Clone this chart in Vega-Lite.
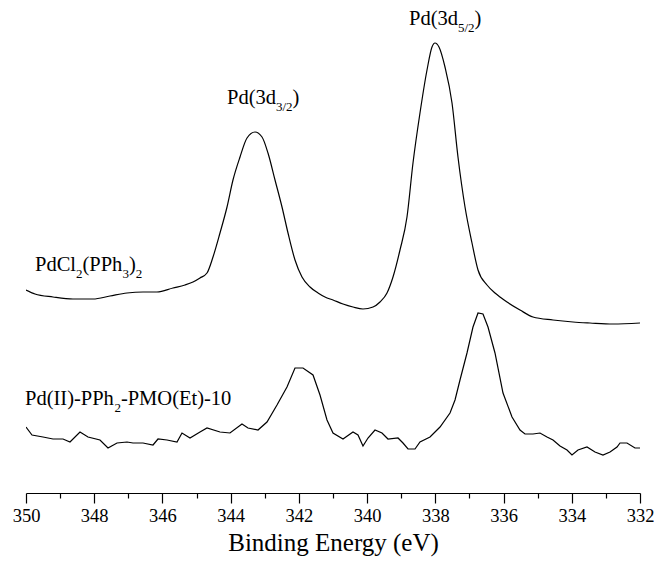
{
  "$schema": "https://vega.github.io/schema/vega-lite/v6.json",
  "width": 614,
  "height": 483,
  "autosize": {"type": "none"},
  "padding": {"left": 26, "right": 14, "top": 10, "bottom": 69},
  "background": "white",
  "config": {"view": {"stroke": null}, "font": "Liberation Serif"},
  "datasets": {
    "spectra": [
      {"series": "PdCl2(PPh3)2", "energy": 350.000, "intensity": 203},
      {"series": "PdCl2(PPh3)2", "energy": 349.736, "intensity": 199},
      {"series": "PdCl2(PPh3)2", "energy": 349.208, "intensity": 196},
      {"series": "PdCl2(PPh3)2", "energy": 348.622, "intensity": 194},
      {"series": "PdCl2(PPh3)2", "energy": 348.036, "intensity": 194},
      {"series": "PdCl2(PPh3)2", "energy": 347.537, "intensity": 197},
      {"series": "PdCl2(PPh3)2", "energy": 347.039, "intensity": 200},
      {"series": "PdCl2(PPh3)2", "energy": 346.570, "intensity": 201},
      {"series": "PdCl2(PPh3)2", "energy": 346.160, "intensity": 201},
      {"series": "PdCl2(PPh3)2", "energy": 345.691, "intensity": 205},
      {"series": "PdCl2(PPh3)2", "energy": 345.339, "intensity": 208},
      {"series": "PdCl2(PPh3)2", "energy": 345.104, "intensity": 211},
      {"series": "PdCl2(PPh3)2", "energy": 344.899, "intensity": 215},
      {"series": "PdCl2(PPh3)2", "energy": 344.694, "intensity": 220},
      {"series": "PdCl2(PPh3)2", "energy": 344.518, "intensity": 236},
      {"series": "PdCl2(PPh3)2", "energy": 344.313, "intensity": 260},
      {"series": "PdCl2(PPh3)2", "energy": 344.107, "intensity": 286},
      {"series": "PdCl2(PPh3)2", "energy": 343.932, "intensity": 313},
      {"series": "PdCl2(PPh3)2", "energy": 343.726, "intensity": 336},
      {"series": "PdCl2(PPh3)2", "energy": 343.521, "intensity": 355},
      {"series": "PdCl2(PPh3)2", "energy": 343.287, "intensity": 361},
      {"series": "PdCl2(PPh3)2", "energy": 343.081, "intensity": 356},
      {"series": "PdCl2(PPh3)2", "energy": 342.906, "intensity": 340},
      {"series": "PdCl2(PPh3)2", "energy": 342.700, "intensity": 313},
      {"series": "PdCl2(PPh3)2", "energy": 342.495, "intensity": 286},
      {"series": "PdCl2(PPh3)2", "energy": 342.319, "intensity": 260},
      {"series": "PdCl2(PPh3)2", "energy": 342.114, "intensity": 233},
      {"series": "PdCl2(PPh3)2", "energy": 341.909, "intensity": 216},
      {"series": "PdCl2(PPh3)2", "energy": 341.674, "intensity": 206},
      {"series": "PdCl2(PPh3)2", "energy": 341.440, "intensity": 200},
      {"series": "PdCl2(PPh3)2", "energy": 341.235, "intensity": 196},
      {"series": "PdCl2(PPh3)2", "energy": 341.000, "intensity": 193},
      {"series": "PdCl2(PPh3)2", "energy": 340.707, "intensity": 189},
      {"series": "PdCl2(PPh3)2", "energy": 340.414, "intensity": 186},
      {"series": "PdCl2(PPh3)2", "energy": 340.121, "intensity": 184},
      {"series": "PdCl2(PPh3)2", "energy": 339.827, "intensity": 186},
      {"series": "PdCl2(PPh3)2", "energy": 339.622, "intensity": 191},
      {"series": "PdCl2(PPh3)2", "energy": 339.417, "intensity": 200},
      {"series": "PdCl2(PPh3)2", "energy": 339.241, "intensity": 216},
      {"series": "PdCl2(PPh3)2", "energy": 339.036, "intensity": 243},
      {"series": "PdCl2(PPh3)2", "energy": 338.831, "intensity": 276},
      {"series": "PdCl2(PPh3)2", "energy": 338.655, "intensity": 330},
      {"series": "PdCl2(PPh3)2", "energy": 338.450, "intensity": 380},
      {"series": "PdCl2(PPh3)2", "energy": 338.244, "intensity": 423},
      {"series": "PdCl2(PPh3)2", "energy": 338.098, "intensity": 446},
      {"series": "PdCl2(PPh3)2", "energy": 338.010, "intensity": 450},
      {"series": "PdCl2(PPh3)2", "energy": 337.893, "intensity": 446},
      {"series": "PdCl2(PPh3)2", "energy": 337.717, "intensity": 426},
      {"series": "PdCl2(PPh3)2", "energy": 337.511, "intensity": 390},
      {"series": "PdCl2(PPh3)2", "energy": 337.336, "intensity": 336},
      {"series": "PdCl2(PPh3)2", "energy": 337.130, "intensity": 286},
      {"series": "PdCl2(PPh3)2", "energy": 336.925, "intensity": 250},
      {"series": "PdCl2(PPh3)2", "energy": 336.749, "intensity": 223},
      {"series": "PdCl2(PPh3)2", "energy": 336.485, "intensity": 208},
      {"series": "PdCl2(PPh3)2", "energy": 336.251, "intensity": 200},
      {"series": "PdCl2(PPh3)2", "energy": 336.104, "intensity": 196},
      {"series": "PdCl2(PPh3)2", "energy": 335.899, "intensity": 191},
      {"series": "PdCl2(PPh3)2", "energy": 335.518, "intensity": 183},
      {"series": "PdCl2(PPh3)2", "energy": 335.137, "intensity": 176},
      {"series": "PdCl2(PPh3)2", "energy": 334.550, "intensity": 173},
      {"series": "PdCl2(PPh3)2", "energy": 333.964, "intensity": 171},
      {"series": "PdCl2(PPh3)2", "energy": 333.466, "intensity": 170},
      {"series": "PdCl2(PPh3)2", "energy": 332.791, "intensity": 169},
      {"series": "PdCl2(PPh3)2", "energy": 332.000, "intensity": 170},

      {"series": "Pd(II)-PPh2-PMO(Et)-10", "energy": 350.000, "intensity": 66},
      {"series": "Pd(II)-PPh2-PMO(Et)-10", "energy": 349.824, "intensity": 58},
      {"series": "Pd(II)-PPh2-PMO(Et)-10", "energy": 349.502, "intensity": 56},
      {"series": "Pd(II)-PPh2-PMO(Et)-10", "energy": 349.208, "intensity": 54},
      {"series": "Pd(II)-PPh2-PMO(Et)-10", "energy": 348.915, "intensity": 54},
      {"series": "Pd(II)-PPh2-PMO(Et)-10", "energy": 348.710, "intensity": 51},
      {"series": "Pd(II)-PPh2-PMO(Et)-10", "energy": 348.417, "intensity": 61},
      {"series": "Pd(II)-PPh2-PMO(Et)-10", "energy": 348.182, "intensity": 56},
      {"series": "Pd(II)-PPh2-PMO(Et)-10", "energy": 347.831, "intensity": 53},
      {"series": "Pd(II)-PPh2-PMO(Et)-10", "energy": 347.596, "intensity": 45},
      {"series": "Pd(II)-PPh2-PMO(Et)-10", "energy": 347.332, "intensity": 50},
      {"series": "Pd(II)-PPh2-PMO(Et)-10", "energy": 347.039, "intensity": 51},
      {"series": "Pd(II)-PPh2-PMO(Et)-10", "energy": 346.863, "intensity": 50},
      {"series": "Pd(II)-PPh2-PMO(Et)-10", "energy": 346.570, "intensity": 50},
      {"series": "Pd(II)-PPh2-PMO(Et)-10", "energy": 346.277, "intensity": 48},
      {"series": "Pd(II)-PPh2-PMO(Et)-10", "energy": 346.130, "intensity": 54},
      {"series": "Pd(II)-PPh2-PMO(Et)-10", "energy": 345.866, "intensity": 53},
      {"series": "Pd(II)-PPh2-PMO(Et)-10", "energy": 345.573, "intensity": 51},
      {"series": "Pd(II)-PPh2-PMO(Et)-10", "energy": 345.427, "intensity": 60},
      {"series": "Pd(II)-PPh2-PMO(Et)-10", "energy": 345.192, "intensity": 55},
      {"series": "Pd(II)-PPh2-PMO(Et)-10", "energy": 344.899, "intensity": 61},
      {"series": "Pd(II)-PPh2-PMO(Et)-10", "energy": 344.694, "intensity": 65},
      {"series": "Pd(II)-PPh2-PMO(Et)-10", "energy": 344.313, "intensity": 61},
      {"series": "Pd(II)-PPh2-PMO(Et)-10", "energy": 344.020, "intensity": 60},
      {"series": "Pd(II)-PPh2-PMO(Et)-10", "energy": 343.668, "intensity": 69},
      {"series": "Pd(II)-PPh2-PMO(Et)-10", "energy": 343.492, "intensity": 65},
      {"series": "Pd(II)-PPh2-PMO(Et)-10", "energy": 343.199, "intensity": 63},
      {"series": "Pd(II)-PPh2-PMO(Et)-10", "energy": 342.935, "intensity": 71},
      {"series": "Pd(II)-PPh2-PMO(Et)-10", "energy": 342.642, "intensity": 88},
      {"series": "Pd(II)-PPh2-PMO(Et)-10", "energy": 342.349, "intensity": 106},
      {"series": "Pd(II)-PPh2-PMO(Et)-10", "energy": 342.114, "intensity": 125},
      {"series": "Pd(II)-PPh2-PMO(Et)-10", "energy": 341.879, "intensity": 125},
      {"series": "Pd(II)-PPh2-PMO(Et)-10", "energy": 341.586, "intensity": 118},
      {"series": "Pd(II)-PPh2-PMO(Et)-10", "energy": 341.381, "intensity": 98},
      {"series": "Pd(II)-PPh2-PMO(Et)-10", "energy": 341.176, "intensity": 73},
      {"series": "Pd(II)-PPh2-PMO(Et)-10", "energy": 341.000, "intensity": 60},
      {"series": "Pd(II)-PPh2-PMO(Et)-10", "energy": 340.707, "intensity": 54},
      {"series": "Pd(II)-PPh2-PMO(Et)-10", "energy": 340.414, "intensity": 61},
      {"series": "Pd(II)-PPh2-PMO(Et)-10", "energy": 340.267, "intensity": 58},
      {"series": "Pd(II)-PPh2-PMO(Et)-10", "energy": 340.121, "intensity": 47},
      {"series": "Pd(II)-PPh2-PMO(Et)-10", "energy": 339.974, "intensity": 55},
      {"series": "Pd(II)-PPh2-PMO(Et)-10", "energy": 339.769, "intensity": 63},
      {"series": "Pd(II)-PPh2-PMO(Et)-10", "energy": 339.564, "intensity": 60},
      {"series": "Pd(II)-PPh2-PMO(Et)-10", "energy": 339.388, "intensity": 54},
      {"series": "Pd(II)-PPh2-PMO(Et)-10", "energy": 339.094, "intensity": 55},
      {"series": "Pd(II)-PPh2-PMO(Et)-10", "energy": 338.948, "intensity": 50},
      {"series": "Pd(II)-PPh2-PMO(Et)-10", "energy": 338.801, "intensity": 44},
      {"series": "Pd(II)-PPh2-PMO(Et)-10", "energy": 338.596, "intensity": 44},
      {"series": "Pd(II)-PPh2-PMO(Et)-10", "energy": 338.450, "intensity": 51},
      {"series": "Pd(II)-PPh2-PMO(Et)-10", "energy": 338.156, "intensity": 56},
      {"series": "Pd(II)-PPh2-PMO(Et)-10", "energy": 337.863, "intensity": 66},
      {"series": "Pd(II)-PPh2-PMO(Et)-10", "energy": 337.570, "intensity": 80},
      {"series": "Pd(II)-PPh2-PMO(Et)-10", "energy": 337.423, "intensity": 93},
      {"series": "Pd(II)-PPh2-PMO(Et)-10", "energy": 337.277, "intensity": 113},
      {"series": "Pd(II)-PPh2-PMO(Et)-10", "energy": 337.072, "intensity": 140},
      {"series": "Pd(II)-PPh2-PMO(Et)-10", "energy": 336.896, "intensity": 166},
      {"series": "Pd(II)-PPh2-PMO(Et)-10", "energy": 336.749, "intensity": 180},
      {"series": "Pd(II)-PPh2-PMO(Et)-10", "energy": 336.603, "intensity": 179},
      {"series": "Pd(II)-PPh2-PMO(Et)-10", "energy": 336.456, "intensity": 166},
      {"series": "Pd(II)-PPh2-PMO(Et)-10", "energy": 336.251, "intensity": 140},
      {"series": "Pd(II)-PPh2-PMO(Et)-10", "energy": 336.016, "intensity": 100},
      {"series": "Pd(II)-PPh2-PMO(Et)-10", "energy": 335.752, "intensity": 76},
      {"series": "Pd(II)-PPh2-PMO(Et)-10", "energy": 335.518, "intensity": 63},
      {"series": "Pd(II)-PPh2-PMO(Et)-10", "energy": 335.371, "intensity": 59},
      {"series": "Pd(II)-PPh2-PMO(Et)-10", "energy": 335.137, "intensity": 59},
      {"series": "Pd(II)-PPh2-PMO(Et)-10", "energy": 334.932, "intensity": 60},
      {"series": "Pd(II)-PPh2-PMO(Et)-10", "energy": 334.726, "intensity": 56},
      {"series": "Pd(II)-PPh2-PMO(Et)-10", "energy": 334.550, "intensity": 53},
      {"series": "Pd(II)-PPh2-PMO(Et)-10", "energy": 334.345, "intensity": 47},
      {"series": "Pd(II)-PPh2-PMO(Et)-10", "energy": 334.140, "intensity": 43},
      {"series": "Pd(II)-PPh2-PMO(Et)-10", "energy": 333.994, "intensity": 38},
      {"series": "Pd(II)-PPh2-PMO(Et)-10", "energy": 333.818, "intensity": 43},
      {"series": "Pd(II)-PPh2-PMO(Et)-10", "energy": 333.554, "intensity": 46},
      {"series": "Pd(II)-PPh2-PMO(Et)-10", "energy": 333.319, "intensity": 41},
      {"series": "Pd(II)-PPh2-PMO(Et)-10", "energy": 333.085, "intensity": 38},
      {"series": "Pd(II)-PPh2-PMO(Et)-10", "energy": 332.879, "intensity": 41},
      {"series": "Pd(II)-PPh2-PMO(Et)-10", "energy": 332.674, "intensity": 46},
      {"series": "Pd(II)-PPh2-PMO(Et)-10", "energy": 332.586, "intensity": 50},
      {"series": "Pd(II)-PPh2-PMO(Et)-10", "energy": 332.381, "intensity": 50},
      {"series": "Pd(II)-PPh2-PMO(Et)-10", "energy": 332.147, "intensity": 45},
      {"series": "Pd(II)-PPh2-PMO(Et)-10", "energy": 332.000, "intensity": 45}
    ],
    "labels": [
      {"part": "main", "text": "PdCl", "energy": 349.736, "intensity": 222},
      {"part": "sub", "text": "2", "energy": 348.534, "intensity": 215},
      {"part": "main", "text": "(PPh", "energy": 348.344, "intensity": 222},
      {"part": "sub", "text": "3", "energy": 347.174, "intensity": 215},
      {"part": "main", "text": ")", "energy": 346.983, "intensity": 222},
      {"part": "sub", "text": "2", "energy": 346.784, "intensity": 215},
      {"part": "main", "text": "Pd(II)-PPh", "energy": 350.029, "intensity": 88},
      {"part": "sub", "text": "2", "energy": 347.408, "intensity": 81},
      {"part": "main", "text": "-PMO(Et)-10", "energy": 347.218, "intensity": 88},
      {"part": "main", "text": "Pd(3d", "energy": 344.107, "intensity": 389},
      {"part": "sub", "text": "3/2", "energy": 342.671, "intensity": 382},
      {"part": "main", "text": ")", "energy": 342.184, "intensity": 389},
      {"part": "main", "text": "Pd(3d", "energy": 338.772, "intensity": 468},
      {"part": "sub", "text": "5/2", "energy": 337.336, "intensity": 461},
      {"part": "main", "text": ")", "energy": 336.849, "intensity": 468}
    ]
  },
  "resolve": {"axis": {"x": "independent"}},
  "layer": [
    {
      "data": {"name": "spectra"},
      "transform": [{"filter": "datum.series === 'PdCl2(PPh3)2'"}],
      "mark": {"type": "line", "color": "black", "strokeWidth": 1.2, "interpolate": "monotone", "clip": true},
      "encoding": {
        "x": {
          "field": "energy",
          "type": "quantitative",
          "scale": {"domain": [350, 332], "nice": false, "zero": false},
          "axis": {
            "orient": "bottom",
            "title": "Binding Energy (eV)",
            "values": [350, 348, 346, 344, 342, 340, 338, 336, 334, 332],
            "format": "d",
            "grid": false,
            "domainColor": "black",
            "domainWidth": 1.2,
            "tickColor": "black",
            "tickWidth": 1.2,
            "tickSize": 10,
            "labelFont": "Liberation Serif",
            "labelFontSize": 18.5,
            "labelColor": "black",
            "labelPadding": 3,
            "labelFlush": false,
            "labelOverlap": false,
            "titleFont": "Liberation Serif",
            "titleFontSize": 25,
            "titleFontWeight": "normal",
            "titleColor": "black",
            "titlePadding": 6
          }
        },
        "y": {
          "field": "intensity",
          "type": "quantitative",
          "scale": {"domain": [0, 483], "nice": false, "zero": false},
          "axis": null
        }
      }
    },
    {
      "data": {"name": "spectra"},
      "transform": [{"filter": "datum.series === 'Pd(II)-PPh2-PMO(Et)-10'"}],
      "mark": {"type": "line", "color": "black", "strokeWidth": 1.2, "interpolate": "linear", "clip": true},
      "encoding": {
        "x": {
          "field": "energy",
          "type": "quantitative",
          "axis": {
            "orient": "bottom",
            "title": null,
            "values": [349, 347, 345, 343, 341, 339, 337, 335, 333],
            "labels": false,
            "domain": false,
            "grid": false,
            "tickColor": "black",
            "tickWidth": 1.2,
            "tickSize": 5
          }
        },
        "y": {"field": "intensity", "type": "quantitative"}
      }
    },
    {
      "data": {"name": "labels"},
      "transform": [{"filter": "datum.part === 'main'"}],
      "mark": {"type": "text", "font": "Liberation Serif", "fontSize": 20.5, "align": "left", "baseline": "alphabetic", "color": "black"},
      "encoding": {
        "x": {"field": "energy", "type": "quantitative", "axis": null},
        "y": {"field": "intensity", "type": "quantitative"},
        "text": {"field": "text", "type": "nominal"}
      }
    },
    {
      "data": {"name": "labels"},
      "transform": [{"filter": "datum.part === 'sub'"}],
      "mark": {"type": "text", "font": "Liberation Serif", "fontSize": 13, "align": "left", "baseline": "alphabetic", "color": "black"},
      "encoding": {
        "x": {"field": "energy", "type": "quantitative", "axis": null},
        "y": {"field": "intensity", "type": "quantitative"},
        "text": {"field": "text", "type": "nominal"}
      }
    }
  ]
}
